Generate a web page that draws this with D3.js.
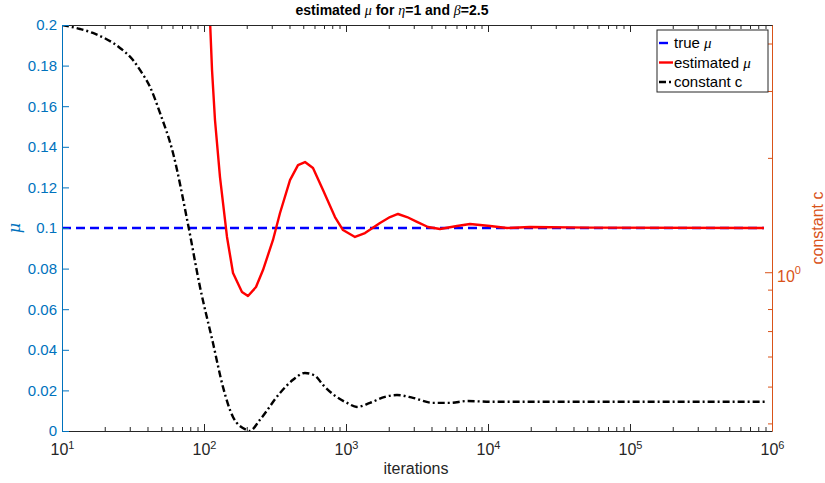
<!DOCTYPE html>
<html>
<head>
<meta charset="utf-8">
<script src="https://cdn.jsdelivr.net/npm/d3@7"></script>
<style>
  body { margin: 0; background: #fff; }
  svg { font-family: "Liberation Sans", Arial, Helvetica, sans-serif; }
</style>
</head>
<body>
<svg id="chart" width="825" height="483"></svg>
<script>
// true mu (flat line)
var trueIter = [10, 878500]
var trueMu = [0.1, 0.1]

// estimated mu
var muIter = [103.3, 110.2, 113.9, 119.5, 129.6, 145.2, 160.1, 185.1, 204.1, 232.4, 260.3, 306.1, 343, 403.3, 459.2, 514.3, 585.6, 688.7, 836.5, 952.6, 1157, 1361, 1735, 2041, 2324, 2689, 3162, 3780, 4592, 6049, 7469, 10330, 13610, 19760, 52240, 878500]
var muVal = [0.211, 0.2025, 0.1778, 0.1532, 0.1251, 0.0956, 0.0778, 0.0685, 0.0665, 0.0709, 0.0793, 0.0941, 0.1074, 0.1236, 0.1310, 0.1325, 0.1296, 0.1187, 0.1054, 0.0990, 0.0956, 0.0975, 0.1025, 0.1054, 0.1069, 0.1054, 0.1030, 0.1005, 0.0995, 0.1010, 0.1020, 0.1010, 0.1000, 0.1005, 0.1002, 0.1000]

// constant c (right axis, log)
var cIter = [10, 13.4, 16.5, 25.6, 31.6, 35.4, 41.7, 49.0, 60.5, 77.1, 93.7, 115.7, 136, 160, 198, 210, 248, 343, 423.6, 514, 605, 689, 836.5, 1016, 1195, 1476, 1882, 2286, 2963, 4100, 5399, 7113, 10840, 19760, 893000]
var cVal = [4.475, 4.368, 4.264, 3.894, 3.620, 3.408, 3.073, 2.626, 2.060, 1.340, 0.915, 0.651, 0.499, 0.416, 0.385, 0.382, 0.409, 0.481, 0.521, 0.543, 0.534, 0.505, 0.473, 0.453, 0.442, 0.453, 0.470, 0.475, 0.467, 0.453, 0.453, 0.458, 0.456, 0.456, 0.456]

var xMajor = [10, 100, 1000, 10000, 100000, 1000000]
var leftTicks = [0, 0.02, 0.04, 0.06, 0.08, 0.1, 0.12, 0.14, 0.16, 0.18, 0.2]
var rightMinor = [0.4, 0.5, 0.6, 0.7, 0.8, 0.9, 2, 3, 4]

var legendItems = [
    {label: "true ", sym: "μ", color: "#0000ff", dash: "9,5"},
    {label: "estimated ", sym: "μ", color: "#ff0000", dash: null},
    {label: "constant c", sym: "", color: "#000000", dash: "7,3,2,3"}
]

var L = 62, R = 772, T = 25, B = 431
var blue = "#0072BD", orange = "#D95319", gray = "#262626"

var svg = d3.select("#chart")

var x = d3.scaleLog().domain([10, 1e6]).range([L, R])
var yL = d3.scaleLinear().domain([0, 0.2]).range([B, T])
var yR = d3.scaleLog().domain([0.382, 4.475]).range([B, T])

var xMinor = []
xMajor.slice(0, -1).forEach(d => {
    for (var k = 2; k <= 9; k++) xMinor.push(d * k)
})

svg.append("defs").append("clipPath").attr("id", "clip")
    .append("rect").attr("x", L).attr("y", T).attr("width", R - L).attr("height", B - T)

// lines
var lineL = d3.line().x(d => x(d[0])).y(d => yL(d[1]))
var lineR = d3.line().x(d => x(d[0])).y(d => yR(d[1])).curve(d3.curveMonotoneX)

var plot = svg.append("g").attr("clip-path", "url(#clip)")
plot.append("path")
    .attr("d", lineL(d3.zip(trueIter, trueMu)))
    .attr("fill", "none").attr("stroke", "#0000ff").attr("stroke-width", 2.4)
    .attr("stroke-dasharray", "9,5")
plot.append("path")
    .attr("d", lineL(d3.zip(muIter, muVal)))
    .attr("fill", "none").attr("stroke", "#ff0000").attr("stroke-width", 2.4)
    .attr("stroke-linejoin", "round")
plot.append("path")
    .attr("d", lineR(d3.zip(cIter, cVal)))
    .attr("fill", "none").attr("stroke", "#000").attr("stroke-width", 2.4)
    .attr("stroke-dasharray", "7,3,2,3")

function style(g, color) {
    g.select(".domain").attr("stroke", color)
    g.selectAll(".tick line").attr("stroke", color)
    g.selectAll(".tick text").attr("fill", color)
}

// bottom axis
var gb = svg.append("g").attr("transform", `translate(0,${B})`)
    .call(d3.axisBottom(x).tickValues(xMajor).tickSize(-7).tickSizeOuter(0).tickPadding(10))
gb.call(style, gray)
gb.selectAll(".tick text").each(function(d) {
    var t = d3.select(this).text("").attr("font-size", 16).attr("dy", "0.9em")
    t.append("tspan").text("10")
    t.append("tspan").text(Math.round(Math.log10(d))).attr("font-size", 11).attr("dy", "-0.6em")
})
svg.append("g").attr("transform", `translate(0,${B})`)
    .call(d3.axisBottom(x).tickValues(xMinor).tickSize(-4).tickFormat(""))
    .call(style, gray).select(".domain").remove()

// top axis
svg.append("g").attr("transform", `translate(0,${T})`)
    .call(d3.axisTop(x).tickValues(xMajor).tickSize(-7).tickSizeOuter(0).tickFormat(""))
    .call(style, gray)
svg.append("g").attr("transform", `translate(0,${T})`)
    .call(d3.axisTop(x).tickValues(xMinor).tickSize(-4).tickFormat(""))
    .call(style, gray).select(".domain").remove()

// left axis
var gl = svg.append("g").attr("transform", `translate(${L},0)`)
    .call(d3.axisLeft(yL).tickValues(leftTicks).tickSize(-7).tickSizeOuter(0).tickPadding(5)
        .tickFormat(d => d3.format("")(+d.toFixed(2))))
gl.call(style, blue)
gl.selectAll(".tick text").attr("font-size", 15)

// right axis
var gr = svg.append("g").attr("transform", `translate(${R},0)`)
    .call(d3.axisRight(yR).tickValues([1]).tickSize(-7).tickSizeOuter(0).tickPadding(5))
gr.call(style, orange)
gr.selectAll(".tick text").each(function() {
    var t = d3.select(this).text("").attr("font-size", 16).attr("dy", "0.55em")
    t.append("tspan").text("10")
    t.append("tspan").text("0").attr("font-size", 11).attr("dy", "-0.7em")
})
svg.append("g").attr("transform", `translate(${R},0)`)
    .call(d3.axisRight(yR).tickValues(rightMinor).tickSize(-4).tickFormat(""))
    .call(style, orange).select(".domain").remove()

// labels
svg.append("text").attr("x", 416).attr("y", 474).attr("text-anchor", "middle")
    .attr("font-size", 16).attr("fill", gray).text("iterations")
svg.append("text").attr("transform", "translate(20,228) rotate(-90)").attr("text-anchor", "middle")
    .attr("font-size", 16).attr("fill", blue).attr("font-style", "italic")
    .attr("font-family", "'DejaVu Serif', 'Liberation Serif', serif").text("μ")
svg.append("text").attr("transform", "translate(823,228) rotate(-90)").attr("text-anchor", "middle")
    .attr("font-size", 16).attr("fill", orange).text("constant c")

// title
var title = svg.append("text").attr("x", 392).attr("y", 15).attr("text-anchor", "middle")
    .attr("font-size", 14).attr("font-weight", "bold").attr("fill", "#000")
title.append("tspan").text("estimated ")
title.append("tspan").text("μ").attr("font-style", "italic").attr("font-weight", "normal")
    .attr("font-family", "'Liberation Serif', serif")
title.append("tspan").text(" for ")
title.append("tspan").text("η").attr("font-style", "italic").attr("font-weight", "normal")
    .attr("font-family", "'Liberation Serif', serif")
title.append("tspan").text("=1 and ")
title.append("tspan").text("β").attr("font-style", "italic").attr("font-weight", "normal")
    .attr("font-family", "'Liberation Serif', serif")
title.append("tspan").text("=2.5")

// legend
var lg = svg.append("g").attr("transform", "translate(657,30)")
lg.append("rect").attr("width", 111).attr("height", 62)
    .attr("fill", "#fff").attr("stroke", gray).attr("stroke-width", 1)
legendItems.forEach((it, i) => {
    var yy = 13 + i * 19.5
    lg.append("line").attr("x1", 2).attr("x2", 16).attr("y1", yy).attr("y2", yy)
        .attr("stroke", it.color).attr("stroke-width", 2.4)
        .attr("stroke-dasharray", it.dash)
    var t = lg.append("text").attr("x", 17).attr("y", yy + 5).attr("font-size", 15).attr("fill", "#000")
    t.append("tspan").text(it.label)
    if (it.sym) t.append("tspan").text(it.sym).attr("font-style", "italic")
        .attr("font-family", "'Liberation Serif', serif")
})
</script>
</body>
</html>
